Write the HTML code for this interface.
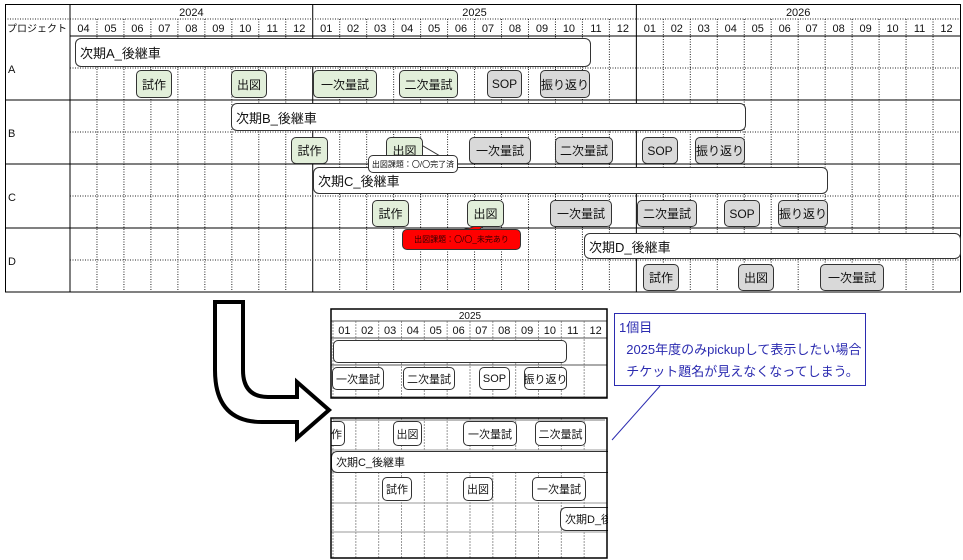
<!DOCTYPE html>
<html><head><meta charset="utf-8">
<style>
body{margin:0;width:963px;height:560px;background:#fff;position:relative;overflow:hidden;font-family:"Liberation Sans","Noto Sans CJK JP",sans-serif;}
.a{position:absolute;box-sizing:border-box;}
.t{position:absolute;box-sizing:border-box;border:1px solid #333;border-radius:5px;font-size:12px;display:flex;align-items:center;justify-content:center;white-space:nowrap;overflow:hidden;color:#111;}
.g{background:#e2efda;}
.y{background:#d9d9d9;}
.w{background:#fff;}
.bar{justify-content:flex-start;padding-left:4px;font-size:13px;background:#fff;border-radius:6px;}
.s .t{font-size:11px;}
</style></head><body>
<svg class="a" style="left:0;top:0" width="963" height="560" id="sv"></svg>
<!-- top chart tasks -->
<div class="t bar" style="left:75px;top:38px;width:516px;height:29px">次期A_後継車</div>
<div class="t g" style="left:136px;top:70px;width:36px;height:28px">試作</div>
<div class="t g" style="left:231px;top:70px;width:36px;height:28px">出図</div>
<div class="t g" style="left:313px;top:70px;width:64px;height:28px">一次量試</div>
<div class="t g" style="left:399px;top:70px;width:59px;height:28px">二次量試</div>
<div class="t y" style="left:487px;top:70px;width:35px;height:28px">SOP</div>
<div class="t y" style="left:540px;top:70px;width:50px;height:28px">振り返り</div>

<div class="t bar" style="left:231px;top:103px;width:515px;height:28px">次期B_後継車</div>
<div class="t g" style="left:291px;top:137px;width:37px;height:27px">試作</div>
<div class="t g" style="left:386px;top:137px;width:37px;height:27px">出図</div>
<div class="t y" style="left:469px;top:137px;width:62px;height:27px">一次量試</div>
<div class="t y" style="left:555px;top:137px;width:58px;height:27px">二次量試</div>
<div class="t y" style="left:642px;top:137px;width:36px;height:27px">SOP</div>
<div class="t y" style="left:695px;top:137px;width:50px;height:27px">振り返り</div>

<div class="t bar" style="left:313px;top:167px;width:515px;height:27px">次期C_後継車</div>
<div class="t w" style="left:368px;top:155px;width:90px;height:18px;font-size:8px">出図課題：〇/〇完了済</div>
<div class="t g" style="left:372px;top:200px;width:37px;height:27px">試作</div>
<div class="t g" style="left:467px;top:200px;width:37px;height:27px">出図</div>
<div class="t y" style="left:550px;top:200px;width:62px;height:27px">一次量試</div>
<div class="t y" style="left:637px;top:200px;width:60px;height:27px">二次量試</div>
<div class="t y" style="left:724px;top:200px;width:36px;height:27px">SOP</div>
<div class="t y" style="left:778px;top:200px;width:50px;height:27px">振り返り</div>
<div class="t" style="left:402px;top:229px;width:119px;height:21px;background:#f00;font-size:8px;color:#300">出図課題：〇/〇_未完あり</div>

<div class="t bar" style="left:584px;top:233px;width:377px;height:26px">次期D_後継車</div>
<div class="t y" style="left:643px;top:264px;width:36px;height:27px">試作</div>
<div class="t y" style="left:738px;top:264px;width:36px;height:27px">出図</div>
<div class="t y" style="left:820px;top:264px;width:64px;height:27px">一次量試</div>

<!-- inset boxes -->
<div class="s">
<div class="t w" style="left:333px;top:340px;width:234px;height:23px"></div>
<div class="t w" style="left:332px;top:367px;width:52px;height:23px">一次量試</div>
<div class="t w" style="left:403px;top:367px;width:52px;height:23px">二次量試</div>
<div class="t w" style="left:479px;top:367px;width:31px;height:23px">SOP</div>
<div class="t w" style="left:524px;top:367px;width:43px;height:23px">振り返り</div>
<div class="t w" style="left:331px;top:421px;width:14px;height:25px;border-left:none;border-radius:0 5px 5px 0;justify-content:flex-end;padding-right:2px">作</div>
<div class="t w" style="left:393px;top:421px;width:29px;height:25px">出図</div>
<div class="t w" style="left:463px;top:421px;width:54px;height:25px">一次量試</div>
<div class="t w" style="left:535px;top:421px;width:51px;height:25px">二次量試</div>
<div class="t w bar" style="left:331px;top:451px;width:277px;height:22px;font-size:11px;border-radius:6px 0 0 6px;border-right:none">次期C_後継車</div>
<div class="t w" style="left:382px;top:477px;width:30px;height:24px">試作</div>
<div class="t w" style="left:463px;top:477px;width:30px;height:24px">出図</div>
<div class="t w" style="left:532px;top:477px;width:54px;height:24px">一次量試</div>
<div class="t w bar" style="left:560px;top:507px;width:48px;height:24px;font-size:11px;border-radius:6px 0 0 6px;border-right:none">次期D_後</div>
</div>
<svg class="a" style="left:0;top:0" width="963" height="560" id="sv2"></svg>

<div class="a" style="left:614px;top:313px;width:252px;height:73px;border:1px solid #2b2bb0;color:#2b2bb0;font-size:13px;line-height:22px;padding:3px 0 0 4px;background:#fff">1個目<br>&nbsp;&nbsp;2025年度のみpickupして表示したい場合<br>&nbsp;&nbsp;チケット題名が見えなくなってしまう。</div>

<script>
const sv=document.getElementById('sv'),sv2=document.getElementById('sv2');
let h='';
const L=(x1,y1,x2,y2,c,w,d)=>`<line x1="${x1}" y1="${y1}" x2="${x2}" y2="${y2}" stroke="${c}" stroke-width="${w}" ${d?'stroke-dasharray="'+d+'"':''}/>`;
const T=(x,y,s,sz,a)=>`<text x="${x}" y="${y}" font-size="${sz}" text-anchor="${a||'middle'}" font-family="Liberation Sans,Noto Sans CJK JP,sans-serif" fill="#111">${s}</text>`;
const X0=70,W=890/33;
const mx=i=>X0+i*W;
const months=[4,5,6,7,8,9,10,11,12,1,2,3,4,5,6,7,8,9,10,11,12,1,2,3,4,5,6,7,8,9,10,11,12];
for(let i=1;i<33;i++){ if(i==9||i==21) continue; h+=L(mx(i),19,mx(i),292,'#222',1,'1,1.5');}
h+=L(mx(9),4,mx(9),292,'#000',1);h+=L(mx(21),4,mx(21),292,'#000',1);
h+=L(70,4,70,292,'#000',1);
h+=L(5,19,960,19,'#222',1,'1,1.5');
[68,132,196,260].forEach(y=>h+=L(70,y,960,y,'#222',1,'1,1.5'));
h+=L(70,36,960,36,'#000',1);
[100,164,228].forEach(y=>h+=L(5,y,960,y,'#000',1));
h+=`<rect x="5.5" y="4.5" width="955" height="287.5" fill="none" stroke="#000"/>`;
h+=T(mx(4.5),16,'2024',11);h+=T(mx(15),16,'2025',11);h+=T(mx(27),16,'2026',11);
months.forEach((m,i)=>h+=T(mx(i+0.5),32,(m<10?'0':'')+m,11));
h+=T(7,32,'プロジェクト',10,'start');
['A','B','C','D'].forEach((s,i)=>h+=T(8,73+i*64,s,11,'start'));
h+=`<polygon points="412,156 440,156 423,146" fill="#fff" stroke="#333"/>`;
h+=`<polygon points="458,231 478,231 490,220 470,228" fill="#f00" stroke="#333"/>`;
const IX=333,IW=(607-333)/12;
const ix=i=>IX+i*IW;
for(let i=0;i<=12;i++){h+=L(ix(i),321,ix(i),398,'#999',1,'2,1');}
for(let i=0;i<=12;i++){h+=L(ix(i),418,ix(i),558,'#999',1,'2,1');}
[338,365,397].forEach(y=>h+=L(331,y,607,y,'#555',1));
[450,472,503,532].forEach(y=>h+=L(331,y,607,y,'#999',1));
h+=L(331,321,607,321,'#555',1);
h+=T(470,319,'2025',10);
for(let i=0;i<12;i++)h+=T(ix(i+0.5),334,(i<9?'0':'')+(i+1),11);
h+=L(333,420,605,420,'#777',1);
sv.innerHTML=h;
let a='';
a+=`<rect x="331" y="309" width="276" height="89" fill="none" stroke="#000" stroke-width="1.5"/>`;
a+=`<rect x="331" y="418" width="276" height="140" fill="none" stroke="#000" stroke-width="1.5"/>`;
a+=`<path d="M215,302 L243,302 L243,370 Q243,397 268,397 L297,397 L297,382 L329,410 L297,438 L297,422 L262,422 Q215,422 215,370 Z" fill="#fff" stroke="#000" stroke-width="4" stroke-linejoin="miter"/>`;
a+=L(660,386,612,440,'#2b2bb0',1);
sv2.innerHTML=a;
</script>
</body></html>
